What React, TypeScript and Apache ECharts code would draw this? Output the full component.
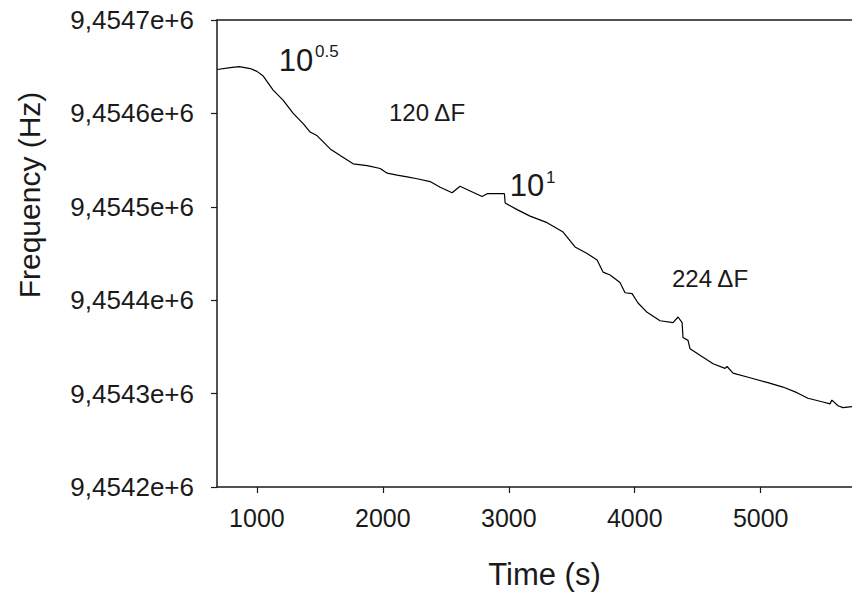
import React, { useEffect, useRef } from "react";
import * as echarts from "echarts";

const timeSeconds = [
  685, 788, 860, 947, 1000, 1050, 1129, 1209, 1288, 1367, 1423, 1479, 1582, 1661, 1764, 1875,
  1979, 2034, 2113, 2193, 2272, 2375, 2455, 2550, 2613, 2693, 2788, 2828, 2955, 2965, 2971,
  3066, 3169, 3304, 3431, 3526, 3622, 3701, 3749, 3804, 3883, 3923, 3979, 4026, 4098, 4201,
  4304, 4344, 4376, 4383, 4423, 4439, 4518, 4622, 4717, 4733, 4780, 4915, 5050, 5177, 5288,
  5375, 5494, 5550, 5565, 5574, 5614, 5653, 5725,
];

const frequencyHz = [
  9454647, 9454649, 9454650, 9454648, 9454645, 9454640, 9454625, 9454614, 9454600, 9454589,
  9454580, 9454576, 9454562, 9454555, 9454546, 9454544, 9454541, 9454536, 9454534, 9454532,
  9454530, 9454527, 9454521, 9454515, 9454522, 9454517, 9454511, 9454514, 9454514, 9454514,
  9454504, 9454497, 9454490, 9454483, 9454473, 9454457, 9454450, 9454443, 9454430, 9454427,
  9454419, 9454408, 9454407, 9454397, 9454387, 9454378, 9454376, 9454382, 9454376, 9454360,
  9454357, 9454348, 9454341, 9454332, 9454327, 9454329, 9454322, 9454317, 9454312, 9454307,
  9454301, 9454295, 9454291, 9454289, 9454293, 9454292, 9454287, 9454285, 9454286,
];

const xTickValues = [1000, 2000, 3000, 4000, 5000];
const xMin = 683;
const xMax = 5725;
const yMin = 9454200;
const yMax = 9454700;
const yStep = 100;

const FONT = "'Liberation Sans', Arial, sans-serif";
const INK = "#1a1a1a";

export default function App() {
  const ref = useRef<HTMLDivElement>(null);

  useEffect(() => {
    if (!ref.current) return;
    const chart = echarts.init(ref.current, null, { renderer: "svg" });
    const data = timeSeconds.map((t, i) => [t, frequencyHz[i]]);
    chart.setOption({
      animation: false,
      backgroundColor: "#ffffff",
      textStyle: { fontFamily: FONT },
      grid: { left: 217, top: 20, right: 0, bottom: 112 },
      xAxis: [
        {
          type: "value",
          min: xMin,
          max: xMax,
          position: "bottom",
          name: "Time (s)",
          nameLocation: "middle",
          nameGap: 72,
          nameTextStyle: { fontSize: 31, color: INK, fontFamily: FONT, padding: [0, 0, 0, 20] },
          axisLine: { show: true, lineStyle: { color: INK, width: 1.5 } },
          axisTick: {
            show: true,
            length: 6,
            inside: false,
            customValues: xTickValues,
            lineStyle: { color: INK, width: 1.2 },
          },
          axisLabel: {
            customValues: xTickValues,
            fontSize: 25,
            color: INK,
            fontFamily: FONT,
            margin: 18,
            formatter: (v: number) => String(Math.round(v)),
          },
          splitLine: { show: false },
        },
        {
          type: "value",
          min: xMin,
          max: xMax,
          position: "top",
          axisLine: { show: true, lineStyle: { color: INK, width: 1.5 } },
          axisTick: { show: false },
          axisLabel: { show: false },
          splitLine: { show: false },
        },
      ],
      yAxis: {
        type: "value",
        min: yMin,
        max: yMax,
        interval: yStep,
        axisLine: { show: true, lineStyle: { color: INK, width: 1.5 } },
        axisTick: { show: true, length: 6, inside: false, lineStyle: { color: INK, width: 1.2 } },
        axisLabel: {
          fontSize: 26,
          color: INK,
          fontFamily: FONT,
          margin: 23,
          formatter: (v: number) => (v / 1e6).toFixed(4).replace(".", ",") + "e+6",
        },
        splitLine: { show: false },
      },
      series: [
        {
          type: "line",
          data,
          showSymbol: false,
          symbol: "none",
          lineStyle: { color: "#000000", width: 1.2 },
          xAxisIndex: 0,
        },
      ],
      graphic: [
        { type: "text", x: 29, y: 195, rotation: Math.PI / 2, style: { text: "Frequency (Hz)", fontSize: 30, fontFamily: FONT, fill: INK, align: "center", verticalAlign: "middle" } },
        { type: "text", x: 296, y: 60, style: { text: "10", fontSize: 31, fontFamily: FONT, fill: INK, align: "center", verticalAlign: "middle" } },
        { type: "text", x: 315, y: 51, style: { text: "0.5", fontSize: 17, fontFamily: FONT, fill: INK, align: "left", verticalAlign: "middle" } },
        { type: "text", x: 427, y: 112, style: { text: "120 ΔF", fontSize: 24, fontFamily: FONT, fill: INK, align: "center", verticalAlign: "middle" } },
        { type: "text", x: 527, y: 185, style: { text: "10", fontSize: 31, fontFamily: FONT, fill: INK, align: "center", verticalAlign: "middle" } },
        { type: "text", x: 546, y: 177, style: { text: "1", fontSize: 17, fontFamily: FONT, fill: INK, align: "left", verticalAlign: "middle" } },
        { type: "text", x: 710, y: 278, style: { text: "224 ΔF", fontSize: 24, fontFamily: FONT, fill: INK, align: "center", verticalAlign: "middle" } },
      ],
    });
    return () => chart.dispose();
  }, []);

  return (
    <div
      ref={ref}
      style={{ position: "absolute", left: 0, top: 0, width: 852, height: 599, background: "#fff" }}
    />
  );
}
